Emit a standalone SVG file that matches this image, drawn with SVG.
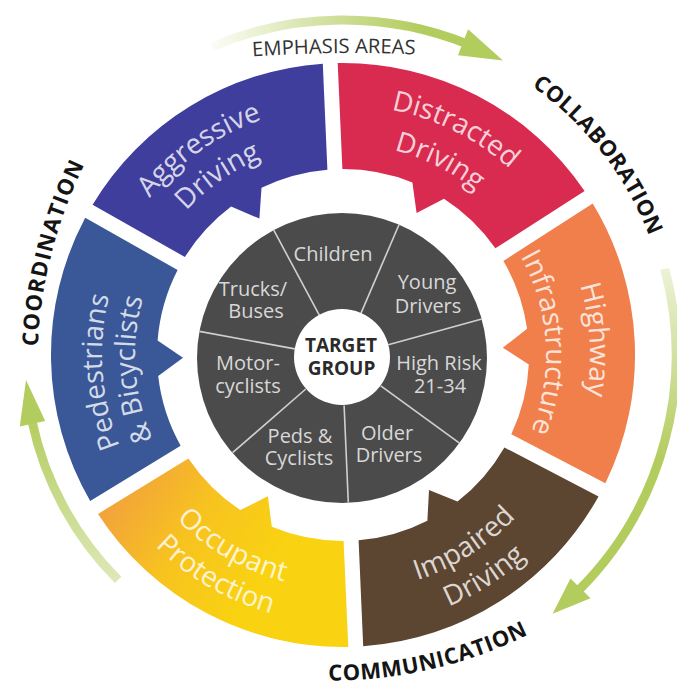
<svg xmlns="http://www.w3.org/2000/svg" width="677" height="685" viewBox="0 0 677 685">
<defs>
<style>
.seg{stroke:none}
.st{font-family:"Open Sans","Liberation Sans","DejaVu Sans",sans-serif;font-size:28px;fill:#ffffff;fill-opacity:0.8;text-anchor:middle}
.gt{font-family:"Open Sans","Liberation Sans","DejaVu Sans",sans-serif;font-size:20px;fill:#d8d8d8;text-anchor:middle}
.tg{font-family:"Open Sans","Liberation Sans","DejaVu Sans",sans-serif;font-size:19px;font-weight:700;fill:#2b2b2b;text-anchor:middle}
.ol{font-family:"Open Sans","Liberation Sans","DejaVu Sans",sans-serif;font-size:22px;font-weight:700;fill:#141414;text-anchor:middle}
.em{font-family:"Open Sans","Liberation Sans","DejaVu Sans",sans-serif;font-size:20px;fill:#333333;text-anchor:middle}
.sep{stroke:#d0d0d0;stroke-width:1.6;fill:none}
.band{fill:none;stroke-width:9}
.head{fill:#b3cc5e}
</style>
<linearGradient id="gTop" gradientUnits="userSpaceOnUse" x1="212" y1="0" x2="420" y2="0">
<stop offset="0" stop-color="#b3cc5e" stop-opacity="0.05"/>
<stop offset="0.5" stop-color="#b3cc5e" stop-opacity="0.55"/>
<stop offset="1" stop-color="#b3cc5e" stop-opacity="1"/>
</linearGradient>
<linearGradient id="gRight" gradientUnits="userSpaceOnUse" x1="0" y1="268" x2="0" y2="460">
<stop offset="0" stop-color="#b3cc5e" stop-opacity="0.25"/>
<stop offset="1" stop-color="#b3cc5e" stop-opacity="1"/>
</linearGradient>
<linearGradient id="gLeft" gradientUnits="userSpaceOnUse" x1="0" y1="580" x2="0" y2="430">
<stop offset="0" stop-color="#b3cc5e" stop-opacity="0.45"/>
<stop offset="1" stop-color="#b3cc5e" stop-opacity="0.95"/>
</linearGradient>
<linearGradient id="gYellow" gradientUnits="userSpaceOnUse" x1="98" y1="514" x2="240" y2="610">
<stop offset="0" stop-color="#f2a23c"/>
<stop offset="0.5" stop-color="#f7c31f"/>
<stop offset="1" stop-color="#f9d212"/>
</linearGradient>
<path id="tp-agg1" d="M 94 355 A 249 249 0 0 1 428.2 121.0"/>
<path id="tp-agg2" d="M 130 355 A 213 213 0 0 1 415.8 154.8"/>
<path id="tp-dis1" d="M 223.7 135.3 A 250 250 0 0 1 590.3 318.0"/>
<path id="tp-dis2" d="M 242.3 169.6 A 211 211 0 0 1 551.7 323.8"/>
<path id="tp-hwy1" d="M 472.1 144.4 A 247 247 0 0 1 496.8 548.3"/>
<path id="tp-hwy2" d="M 449.1 181.9 A 203 203 0 0 1 469.4 513.9"/>
<path id="tp-ped1" d="M 218.9 561.6 A 241 241 0 0 1 191.3 167.7"/>
<path id="tp-ped2" d="M 235.9 533.3 A 208 208 0 0 1 212.1 193.4"/>
<path id="tp-imp1" d="M 252.3 574.0 A 237 237 0 0 0 579.8 365.3"/>
<path id="tp-imp2" d="M 238.5 607.2 A 273 273 0 0 0 615.7 366.9"/>
<path id="tp-occ1" d="M 109.9 375.4 A 234 234 0 0 0 441.9 567.1"/>
<path id="tp-occ2" d="M 76.0 378.4 A 268 268 0 0 0 456.3 597.9"/>
<path id="tp-col" d="M 410.7 33.6 A 328.5 328.5 0 0 1 671.3 365.9"/>
<path id="tp-coo" d="M 45.2 453.1 A 462.1 462.1 0 0 1 142.1 74.7"/>
<path id="tp-com" d="M 238.1 670.6 A 445.5 445.5 0 0 0 605.2 586.5"/>
<path id="tp-emph" d="M 240 57.5 Q 333 50 428 55"/>
</defs>

<rect width="677" height="685" fill="#ffffff"/>

<g id="connectors">
<path class="band" stroke="url(#gTop)" d="M 212.1 46.6 A 335 335 0 0 1 468.5 44.4"/>
<polygon class="head" points="458.0,55.3 468.1,29.2 502.9,60.6"/>
<path class="band" stroke="url(#gRight)" d="M 664.7 268.8 A 333 333 0 0 1 578.5 590.5"/>
<polygon class="head" points="570.5,578.6 590.5,598.2 552.6,613.8"/>
<path class="band" stroke="url(#gLeft)" d="M 118.1 579.9 A 318 318 0 0 1 32.0 421.1"/>
<polygon class="head" points="45.2,421.0 19.8,426.6 26.0,380.0"/>
</g>

<g id="labels">
<text class="em"><textPath href="#tp-emph" startOffset="50%" textLength="163" lengthAdjust="spacingAndGlyphs">EMPHASIS AREAS</textPath></text>
<text class="ol" font-size="21"><textPath href="#tp-col" startOffset="50%" textLength="193">COLLABORATION</textPath></text>
<text class="ol"><textPath href="#tp-com" startOffset="50%" textLength="207">COMMUNICATION</textPath></text>
<text class="ol"><textPath href="#tp-coo" startOffset="50%" textLength="189">COORDINATION</textPath></text>
</g>

<g id="aggressive-driving">
<path class="seg" fill="#3f3e9d" d="M 92.6 204.7 A 292 292 0 0 1 322.8 63.7 L 327.4 169.7 A 186 186 0 0 0 261.5 187.8 L 259.4 218.6 L 231.1 206.5 A 186 186 0 0 0 184.9 257.0 Z"/>
<text class="st"><textPath href="#tp-agg1" startOffset="50%">Aggressive</textPath><textPath href="#tp-agg2" startOffset="50%">Driving</textPath></text>
</g>

<g id="distracted-driving">
<path class="seg" fill="#d92a4f" d="M 337.7 63.1 A 292 292 0 0 1 584.6 191.0 L 495.4 248.3 A 186 186 0 0 0 444.0 198.8 L 416.6 213.0 L 412.4 182.4 A 186 186 0 0 0 342.4 169.0 Z"/>
<text class="st"><textPath href="#tp-dis1" startOffset="50%">Distracted</textPath><textPath href="#tp-dis2" startOffset="50%">Driving</textPath></text>
</g>

<g id="highway-infrastructure">
<path class="seg" fill="#f07f4c" d="M 592.7 203.6 A 292 292 0 0 1 605.4 483.2 L 511.3 434.2 A 186 186 0 0 0 528.8 364.4 L 502.8 347.7 L 527.1 328.8 A 186 186 0 0 0 503.4 260.9 Z"/>
<text class="st"><textPath href="#tp-hwy1" startOffset="50%">Highway</textPath><textPath href="#tp-hwy2" startOffset="50%">Infrastructure</textPath></text>
</g>

<g id="impaired-driving">
<path class="seg" fill="#5c4531" d="M 598.5 496.4 A 292 292 0 0 1 363.2 646.3 L 358.6 540.3 A 186 186 0 0 0 427.4 520.7 L 429.0 489.9 L 457.5 501.6 A 186 186 0 0 0 504.4 447.5 Z"/>
<text class="st"><textPath href="#tp-imp1" startOffset="50%">Impaired</textPath><textPath href="#tp-imp2" startOffset="50%">Driving</textPath></text>
</g>

<g id="occupant-protection">
<path class="seg" fill="url(#gYellow)" d="M 348.3 646.9 A 292 292 0 0 1 98.0 513.9 L 188.4 458.5 A 186 186 0 0 0 240.3 510.1 L 267.9 496.3 L 271.8 526.8 A 186 186 0 0 0 343.6 541.0 Z"/>
<text class="st"><textPath href="#tp-occ1" startOffset="50%">Occupant</textPath><textPath href="#tp-occ2" startOffset="50%">Protection</textPath></text>
</g>

<g id="pedestrians-bicyclists">
<path class="seg" fill="#3a5797" d="M 90.2 501.1 A 292 292 0 0 1 85.2 217.8 L 177.6 270.0 A 186 186 0 0 0 157.6 340.4 L 183.0 357.8 L 158.2 376.1 A 186 186 0 0 0 180.6 445.7 Z"/>
<text class="st"><textPath href="#tp-ped1" startOffset="50%">Pedestrians</textPath><textPath href="#tp-ped2" startOffset="50%">&amp; Bicyclists</textPath></text>
</g>

<g id="target-group">
<circle cx="342" cy="358" r="145" fill="#4b4b4b"/>
<g id="sector-lines">
<line class="sep" x1="319.3" y1="315.2" x2="273.5" y2="229.7"/>
<line class="sep" x1="360.9" y1="313.4" x2="399.2" y2="224.3"/>
<line class="sep" x1="388.3" y1="344.8" x2="481.8" y2="319.1"/>
<line class="sep" x1="380.8" y1="385.8" x2="459.2" y2="442.9"/>
<line class="sep" x1="344.1" y1="405.5" x2="348.3" y2="502.4"/>
<line class="sep" x1="305.8" y1="389.0" x2="232.6" y2="452.7"/>
<line class="sep" x1="294.8" y1="348.9" x2="199.4" y2="331.4"/>
</g>
<circle cx="342" cy="357" r="48" fill="#ffffff"/>
<text class="tg" x="341" y="352">TARGET</text>
<text class="tg" x="341.5" y="375">GROUP</text>
</g>

<g id="children"><text class="gt" x="333" y="261">Children</text></g>
<g id="young-drivers"><text class="gt" x="427" y="289">Young</text><text class="gt" x="428" y="313">Drivers</text></g>
<g id="high-risk"><text class="gt" x="439" y="370">High Risk</text><text class="gt" x="440" y="393">21-34</text></g>
<g id="older-drivers"><text class="gt" x="387" y="440">Older</text><text class="gt" x="389" y="462">Drivers</text></g>
<g id="peds-cyclists"><text class="gt" x="300" y="443">Peds &amp;</text><text class="gt" x="299" y="465">Cyclists</text></g>
<g id="motorcyclists"><text class="gt" x="248" y="370">Motor-</text><text class="gt" x="248" y="393">cyclists</text></g>
<g id="trucks-buses"><text class="gt" x="253" y="296">Trucks/</text><text class="gt" x="256" y="318">Buses</text></g>
</svg>
